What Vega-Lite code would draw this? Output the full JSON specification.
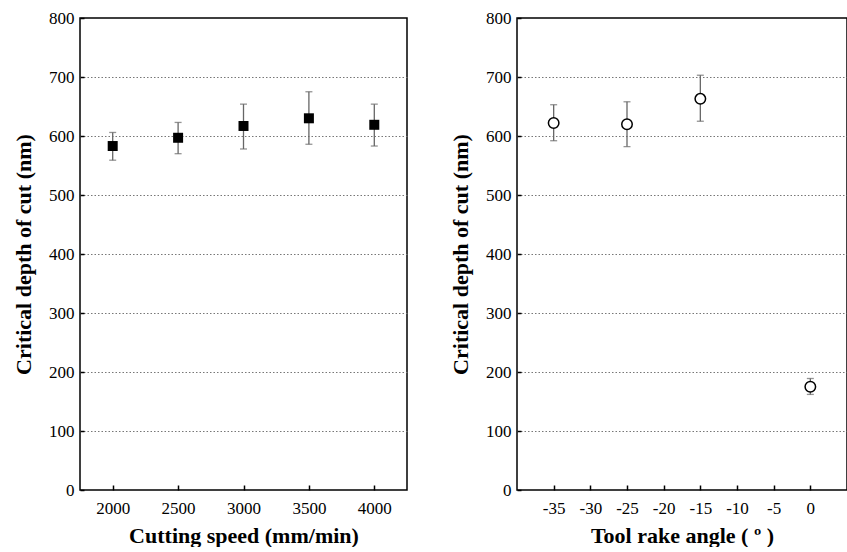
{
  "$schema": "https://vega.github.io/schema/vega-lite/v6.json",
  "padding": {"left": 11, "top": 8, "right": 0, "bottom": 0},
  "bounds": "flush",
  "spacing": 110,
  "config": {
    "font": "Liberation Serif",
    "view": {"stroke": "#000", "strokeWidth": 1.5},
    "axis": {
      "domain": false,
      "labelFont": "Liberation Serif", "labelFontSize": 17, "labelColor": "#000", "labelOverlap": false,
      "titleFont": "Liberation Serif", "titleFontSize": 22, "titleFontWeight": "bold", "titleColor": "#000",
      "tickColor": "#000", "tickWidth": 1.5,
      "gridColor": "#777", "gridDash": [1.5, 2], "gridWidth": 1
    }
  },
  "datasets": {
    "speed": [
      {"speed": 2000, "depth": 583, "low": 559, "high": 606},
      {"speed": 2500, "depth": 597, "low": 570, "high": 623},
      {"speed": 3000, "depth": 617, "low": 578, "high": 654},
      {"speed": 3500, "depth": 630, "low": 586, "high": 675},
      {"speed": 4000, "depth": 619, "low": 583, "high": 654}
    ],
    "angle": [
      {"angle": -35, "depth": 622, "low": 592, "high": 653},
      {"angle": -25, "depth": 620, "low": 582, "high": 658},
      {"angle": -15, "depth": 663, "low": 625, "high": 703},
      {"angle": 0, "depth": 175, "low": 162, "high": 189}
    ]
  },
  "hconcat": [
    {
      "width": 327, "height": 472,
      "data": {"name": "speed"},
      "layer": [
        {
          "mark": {"type": "errorbar", "color": "#666", "thickness": 1.3, "ticks": {"size": 7, "color": "#666", "thickness": 1.3}},
          "encoding": {
            "x": {"field": "speed", "type": "quantitative", "title": "Cutting speed (mm/min)",
              "scale": {"domain": [1750, 4250], "nice": false, "zero": false},
              "axis": {"values": [2000, 2500, 3000, 3500, 4000], "format": "d", "labelFont": "Liberation Serif", "tickSize": -5, "labelPadding": 15, "titlePadding": 9, "grid": false}},
            "y": {"field": "low", "type": "quantitative", "title": "Critical depth of cut (nm)",
              "scale": {"domain": [0, 800], "nice": false},
              "axis": {"values": [0,50,100,150,200,250,300,350,400,450,500,550,600,650,700,750,800],
                "labelExpr": "datum.value % 100 === 0 ? datum.label : ''", "labelFont": "Liberation Serif",
                "tickSize": -4, "labelPadding": 10, "titlePadding": 13, "grid": true,
                "gridOpacity": {"condition": {"test": "datum.value % 100 === 0 && datum.value > 0 && datum.value < 800", "value": 1}, "value": 0}}},
            "y2": {"field": "high"}
          }
        },
        {
          "mark": {"type": "point", "shape": "square", "filled": true, "color": "#000", "size": 100, "opacity": 1},
          "encoding": {
            "x": {"field": "speed", "type": "quantitative", "title": "Cutting speed (mm/min)"},
            "y": {"field": "depth", "type": "quantitative", "title": "Critical depth of cut (nm)"}
          }
        }
      ]
    },
    {
      "width": 330, "height": 472,
      "data": {"name": "angle"},
      "layer": [
        {
          "mark": {"type": "errorbar", "color": "#666", "thickness": 1.3, "ticks": {"size": 7, "color": "#666", "thickness": 1.3}},
          "encoding": {
            "x": {"field": "angle", "type": "quantitative", "title": "Tool rake angle ( º )",
              "scale": {"domain": [-40, 5], "nice": false, "zero": false},
              "axis": {"values": [-35, -30, -25, -20, -15, -10, -5, 0], "labelExpr": "'' + datum.value", "labelFont": "Liberation Serif", "tickSize": -5, "labelPadding": 15, "titlePadding": 9, "grid": false}},
            "y": {"field": "low", "type": "quantitative", "title": "Critical depth of cut (nm)",
              "scale": {"domain": [0, 800], "nice": false},
              "axis": {"values": [0,50,100,150,200,250,300,350,400,450,500,550,600,650,700,750,800],
                "labelExpr": "datum.value % 100 === 0 ? datum.label : ''", "labelFont": "Liberation Serif",
                "tickSize": -4, "labelPadding": 10, "titlePadding": 13, "grid": true,
                "gridOpacity": {"condition": {"test": "datum.value % 100 === 0 && datum.value > 0 && datum.value < 800", "value": 1}, "value": 0}}},
            "y2": {"field": "high"}
          }
        },
        {
          "mark": {"type": "point", "shape": "circle", "filled": true, "fill": "#fff", "stroke": "#000", "strokeWidth": 1.5, "size": 110, "opacity": 1},
          "encoding": {
            "x": {"field": "angle", "type": "quantitative", "title": "Tool rake angle ( º )"},
            "y": {"field": "depth", "type": "quantitative", "title": "Critical depth of cut (nm)"}
          }
        }
      ]
    }
  ]
}
